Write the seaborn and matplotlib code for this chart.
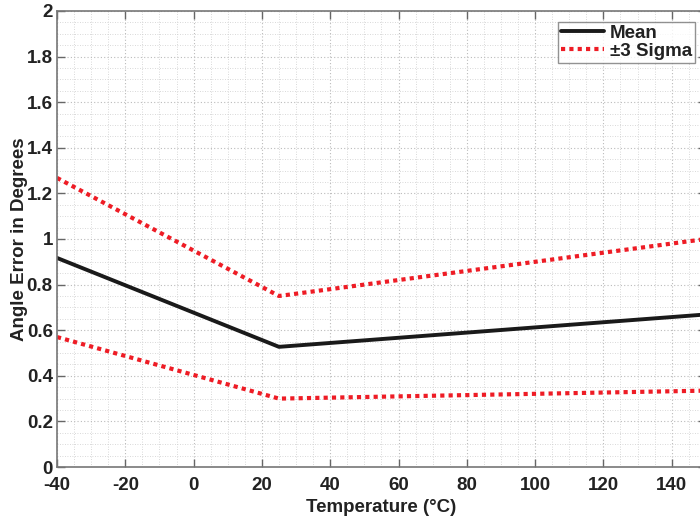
import matplotlib
matplotlib.use("Agg")
import matplotlib.pyplot as plt
import seaborn as sns
import pandas as pd
from matplotlib.ticker import MultipleLocator

temperature = [-40, 25, 150]
mean_err = [0.917, 0.527, 0.669]
upper_3sigma = [1.268, 0.750, 1.000]
lower_3sigma = [0.570, 0.300, 0.335]

x_ticks = [-40, -20, 0, 20, 40, 60, 80, 100, 120, 140]
y_ticks = [0, 0.2, 0.4, 0.6, 0.8, 1, 1.2, 1.4, 1.6, 1.8, 2]
y_tick_labels = ["0", "0.2", "0.4", "0.6", "0.8", "1", "1.2", "1.4", "1.6", "1.8", "2"]

sns.set_theme(style="white")
plt.rcParams['font.family'] = ['Liberation Sans', 'DejaVu Sans']
plt.rcParams['font.weight'] = 'bold'

fig = plt.figure(figsize=(7, 5.2), dpi=100)
ax = fig.add_axes([0.0814, 0.1019, 0.927, 0.877])

df_mean = pd.DataFrame({"T": temperature, "v": mean_err})
df_up = pd.DataFrame({"T": temperature, "v": upper_3sigma})
df_lo = pd.DataFrame({"T": temperature, "v": lower_3sigma})

sns.lineplot(data=df_mean, x="T", y="v", ax=ax, color="#1a1a1a", lw=2.8, label="Mean")
sns.lineplot(data=df_up, x="T", y="v", ax=ax, color="#ee1c25", lw=3.0,
             linestyle=(0, (1, 1)), label="\u00b13 Sigma")
sns.lineplot(data=df_lo, x="T", y="v", ax=ax, color="#ee1c25", lw=3.0,
             linestyle=(0, (1, 1)))

ax.set_xlim(-40, 150)
ax.set_ylim(0, 2)
ax.set_xticks(x_ticks)
ax.set_yticks(y_ticks)
ax.set_xticklabels([str(t) for t in x_ticks])
ax.set_yticklabels(y_tick_labels)
ax.xaxis.set_minor_locator(MultipleLocator(5))
ax.yaxis.set_minor_locator(MultipleLocator(0.05))

ax.grid(which="major", color="#bbbbbb", linestyle=(0, (1, 2)), lw=0.8)
ax.grid(which="minor", color="#cccccc", linestyle=(0, (1, 2)), lw=0.6)
ax.set_axisbelow(True)

ax.tick_params(which="major", direction="in", length=6, width=1, color="#666666",
               top=True, right=True, bottom=True, left=True, labelsize=13.5)
ax.tick_params(axis="x", which="major", pad=7)
ax.tick_params(axis="y", which="major", pad=3)
ax.tick_params(which="minor", length=0)
for lbl in ax.get_xticklabels() + ax.get_yticklabels():
    lbl.set_fontweight("bold")
    lbl.set_color("#222222")

for s in ax.spines.values():
    s.set_color("#777777")
    s.set_linewidth(1.2)

ax.set_xlabel("Temperature (\u00b0C)", fontsize=13.5, fontweight="bold", color="#222222", labelpad=4)
ax.set_ylabel("Angle Error in Degrees", fontsize=13.5, fontweight="bold", color="#222222", labelpad=-1)

leg = ax.legend(loc="upper right", bbox_to_anchor=(0.983, 0.976), fontsize=13.5,
                frameon=True, fancybox=False, handlelength=2.3, handletextpad=0.3,
                borderpad=0.15, labelspacing=0.05, borderaxespad=0)
leg.get_frame().set_edgecolor("#777777")
leg.get_frame().set_linewidth(1.0)
for t in leg.get_texts():
    t.set_fontweight("bold")
    t.set_color("#222222")

fig.savefig("out.png", dpi=100)
